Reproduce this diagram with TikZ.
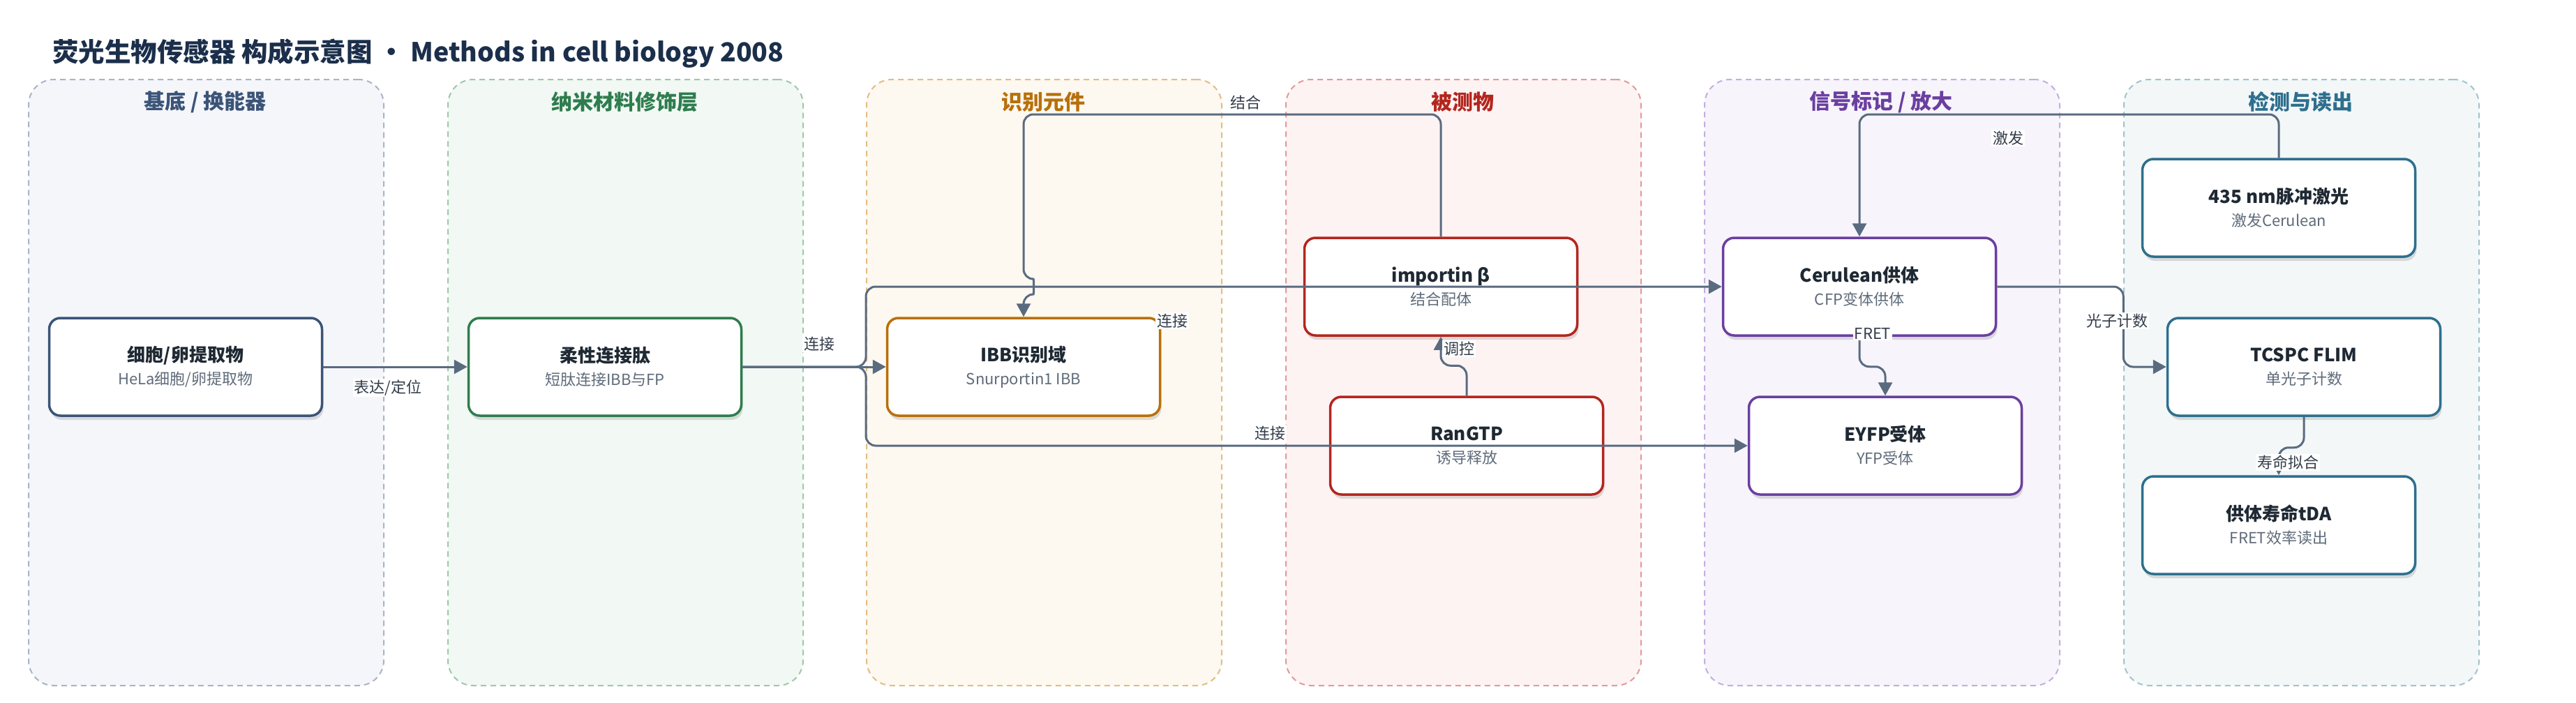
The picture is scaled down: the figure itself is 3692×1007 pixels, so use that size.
\documentclass[tikz,border=0pt]{standalone}
\usepackage{fontspec}
\setmainfont{Noto Sans CJK SC}
\usetikzlibrary{arrows.meta,shadows,calc}

\definecolor{ink}{HTML}{1B2F4B}
\definecolor{nodetxt}{HTML}{1F2933}
\definecolor{subtxt}{HTML}{5F6B7A}
\definecolor{labtxt}{HTML}{333D4A}
\definecolor{edgec}{HTML}{5A6B80}
% lane colours: border / fill / title
\definecolor{baseB}{HTML}{A8B4C8}\definecolor{baseF}{HTML}{F5F6FA}\definecolor{baseT}{HTML}{3B5478}
\definecolor{nanoB}{HTML}{9FC8AA}\definecolor{nanoF}{HTML}{F2F8F4}\definecolor{nanoT}{HTML}{2E7D4E}
\definecolor{recoB}{HTML}{E3BD84}\definecolor{recoF}{HTML}{FDF8F0}\definecolor{recoT}{HTML}{B8700A}
\definecolor{anaB}{HTML}{E39A98}\definecolor{anaF}{HTML}{FDF3F3}\definecolor{anaT}{HTML}{B3261E}
\definecolor{sigB}{HTML}{C3AEE0}\definecolor{sigF}{HTML}{F7F4FB}\definecolor{sigT}{HTML}{6A3FA0}
\definecolor{detB}{HTML}{A2C3CD}\definecolor{detF}{HTML}{F3F7F8}\definecolor{detT}{HTML}{2E6F8E}

\newcommand{\sub}[1]{{\fontsize{22}{26}\selectfont\mdseries\color{subtxt}#1}}

\tikzset{
  lane/.style={rectangle, rounded corners=36pt, dash pattern=on 8pt off 6pt, line width=2pt,
    minimum width=509pt, minimum height=869pt, anchor=north west},
  lanetitle/.style={font=\fontsize{30}{32}\selectfont\bfseries},
  box/.style={rectangle, rounded corners=16pt, fill=white, line width=3.5pt,
    minimum width=391pt, minimum height=140pt, align=center, text=nodetxt,
    font=\fontsize{26}{33}\selectfont\bfseries,
    drop shadow={shadow xshift=2pt, shadow yshift=-6pt, opacity=0.12, fill=black}},
  edge/.style={draw=edgec, line width=3pt, rounded corners=14pt, -{Triangle[length=19pt,width=20pt]}},
  elabel/.style={fill=white, inner sep=2pt, text=labtxt, font=\fontsize{22}{24}\selectfont},
}

\begin{document}
\begin{tikzpicture}[x=1pt, y=-1pt]
  \useasboundingbox (0,0) rectangle (3692,1007);

  \node[anchor=west, inner sep=0pt, text=ink, font=\fontsize{37.5}{40}\selectfont\bfseries] (title) at (75,77)
    {荧光生物传感器 构成示意图 · Methods in cell biology 2008};

  % lanes
  \node[lane, draw=baseB, fill=baseF] (lane1) at (40,113) {};
  \node[lane, draw=nanoB, fill=nanoF] (lane2) at (641,113) {};
  \node[lane, draw=recoB, fill=recoF] (lane3) at (1241,113) {};
  \node[lane, draw=anaB, fill=anaF] (lane4) at (1842,113) {};
  \node[lane, draw=sigB, fill=sigF] (lane5) at (2442,113) {};
  \node[lane, draw=detB, fill=detF] (lane6) at (3043,113) {};

  \node[lanetitle, text=baseT] (t1) at (294,146) {基底 / 换能器};
  \node[lanetitle, text=nanoT] (t2) at (895,146) {纳米材料修饰层};
  \node[lanetitle, text=recoT] (t3) at (1495,146) {识别元件};
  \node[lanetitle, text=anaT] (t4) at (2096,146) {被测物};
  \node[lanetitle, text=sigT] (t5) at (2696,146) {信号标记 / 放大};
  \node[lanetitle, text=detT] (t6) at (3297,146) {检测与读出};

  % boxes
  \node[box, draw=baseT] (cell) at (266,526) {细胞/卵提取物\\\sub{HeLa细胞/卵提取物}};
  \node[box, draw=nanoT] (linker) at (867,526) {柔性连接肽\\\sub{短肽连接IBB与FP}};
  \node[box, draw=recoT] (ibb) at (1467,526) {IBB识别域\\\sub{Snurportin1 IBB}};
  \node[box, draw=anaT] (imp) at (2065,411) {importin β\\\sub{结合配体}};
  \node[box, draw=anaT] (ran) at (2102,639) {RanGTP\\\sub{诱导释放}};
  \node[box, draw=sigT] (cer) at (2665,411) {Cerulean供体\\\sub{CFP变体供体}};
  \node[box, draw=sigT] (eyfp) at (2702,639) {EYFP受体\\\sub{YFP受体}};
  \node[box, draw=detT] (laser) at (3266,298) {435 nm脉冲激光\\\sub{激发Cerulean}};
  \node[box, draw=detT] (flim) at (3302,526) {TCSPC FLIM\\\sub{单光子计数}};
  \node[box, draw=detT] (tda) at (3266,753) {供体寿命tDA\\\sub{FRET效率读出}};

  \coordinate (fork) at (1241,526);
  \coordinate (top) at (0,164);

  % connectors
  \draw[edge] (cell) -- (linker);
  \draw[edge] (linker) -- (ibb);
  \draw[edge] (linker.east) -- (fork) |- (cer.west);
  \draw[edge] (linker.east) -- (fork) |- (eyfp.west);
  \draw[edge] (imp.north) |- (ibb.north |- top) -- ($(ibb.north |- cer.west)+(0,-11)$)
    .. controls +(15,0) and +(15,0) .. ($(ibb.north |- cer.west)+(0,11)$) -- (ibb.north);
  \draw[edge] (ran.north) -- ++(0,-43) -| (imp.south);
  \draw[edge] (laser.north) |- (cer.north |- top) -- (cer.north);
  \draw[edge] (cer.south) -- ++(0,43) -| (eyfp.north);
  \draw[edge] (cer.east) -- ++(181,0) |- (flim.west);
  \draw[edge] (flim.south) -- ++(0,44) -| (tda.north);

  % labels
  \node[elabel] (l1) at (556,556) {表达/定位};
  \node[elabel] (l2) at (1174,493) {连接};
  \node[elabel] (l3) at (1680,460) {连接};
  \node[elabel] (l4) at (1820,621) {连接};
  \node[elabel] (l5) at (1785,147) {结合};
  \node[elabel] (l6) at (2091,500) {调控};
  \node[elabel] (l7) at (2684,478) {FRET};
  \node[elabel] (l8) at (2878,198) {激发};
  \node[elabel] (l9) at (3034,460) {光子计数};
  \node[elabel] (l10) at (3279,663) {寿命拟合};
\end{tikzpicture}
\end{document}
